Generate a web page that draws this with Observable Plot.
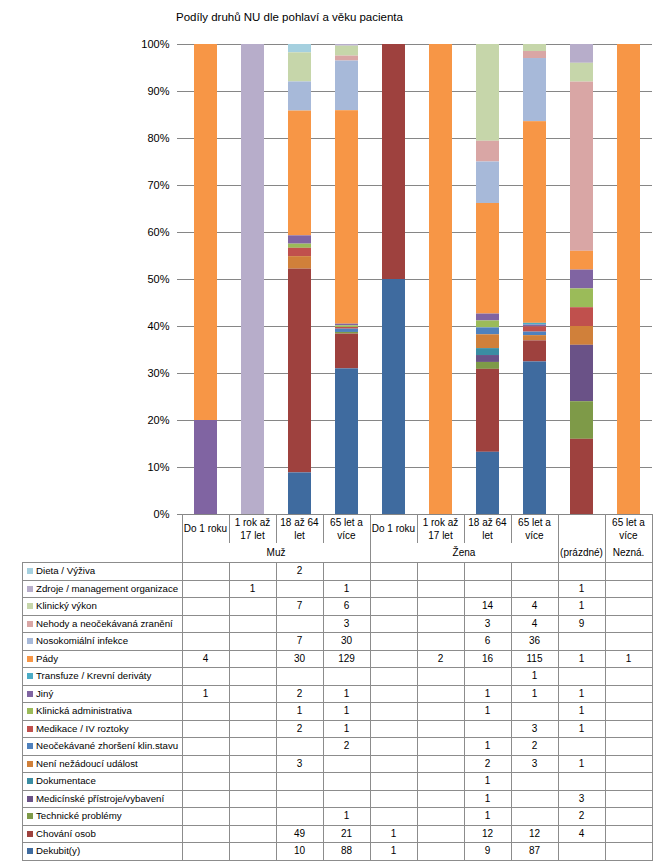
<!DOCTYPE html>
<html><head><meta charset="utf-8">
<script src="https://cdn.jsdelivr.net/npm/d3@7"></script>
<script src="https://cdn.jsdelivr.net/npm/@observablehq/plot@0.6"></script>
<style>
body{margin:0;background:#fff;font-family:"Liberation Sans",Arial,sans-serif;color:#000;}
#wrap{position:relative;width:667px;height:866px;overflow:hidden;}
#title{position:absolute;left:176px;top:11px;font-size:11.5px;white-space:nowrap;}
#chart{position:absolute;left:0;top:0;}
.ln{position:absolute;background:#8c8c8c;}
.tx{position:absolute;font-size:10px;line-height:13px;text-align:center;white-space:nowrap;}
.lab{position:absolute;font-size:9.7px;white-space:nowrap;line-height:17px;}
.sw{display:inline-block;width:6px;height:6px;margin-right:3px;vertical-align:0px;}
</style></head>
<body><div id="wrap"><div id="title">Podíly druhů NU dle pohlaví a věku pacienta</div><div id="chart"></div></div>
<script>
// columns (x categories)
const colKeys = ["M0","M1","M18","M65","Z0","Z1","Z18","Z65","P","N65"];
const colLabels = ["Do 1 roku","1 rok až\n17 let","18 až 64\nlet","65 let a\nvíce","Do 1 roku","1 rok až\n17 let","18 až 64\nlet","65 let a\nvíce","","65 let a\nvíce"];
const groupLabels = ["Muž","Žena","(prázdné)","Nezná."];
const groupSpans = [4,4,1,1];
const yTicks = [0,0.1,0.2,0.3,0.4,0.5,0.6,0.7,0.8,0.9,1];

// series values per column (table order, top to bottom)
const dieta       = [null,null,2,null,null,null,null,null,null,null];
const zdroje      = [null,1,null,1,null,null,null,null,1,null];
const klinVykon   = [null,null,7,6,null,null,14,4,1,null];
const nehody      = [null,null,null,3,null,null,3,4,9,null];
const noso        = [null,null,7,30,null,null,6,36,null,null];
const pady        = [4,null,30,129,null,2,16,115,1,1];
const transfuze   = [null,null,null,null,null,null,null,1,null,null];
const jiny        = [1,null,2,1,null,null,1,1,1,null];
const klinAdm     = [null,null,1,1,null,null,1,null,1,null];
const medikace    = [null,null,2,1,null,null,null,3,1,null];
const neocek      = [null,null,null,2,null,null,1,2,null,null];
const neniNU      = [null,null,3,null,null,null,2,3,1,null];
const dokumentace = [null,null,null,null,null,null,1,null,null,null];
const pristroje   = [null,null,null,null,null,null,1,null,3,null];
const technicke   = [null,null,null,1,null,null,1,null,2,null];
const chovani     = [null,null,49,21,1,null,12,12,4,null];
const dekubit     = [null,null,10,88,1,null,9,87,null,null];

const seriesNames = ["Dieta / Výživa","Zdroje / management organizace","Klinický výkon","Nehody a neočekávaná zranění","Nosokomiální infekce","Pády","Transfuze / Krevní deriváty","Jiný","Klinická administrativa","Medikace / IV roztoky","Neočekávané zhoršení klin.stavu","Není nežádoucí událost","Dokumentace","Medicínské přístroje/vybavení","Technické problémy","Chování osob","Dekubit(y)"];
const seriesValues = [dieta,zdroje,klinVykon,nehody,noso,pady,transfuze,jiny,klinAdm,medikace,neocek,neniNU,dokumentace,pristroje,technicke,chovani,dekubit];
const seriesColors = ["#a5d0df","#b7adca","#c6d6aa","#d9a6a5","#a7b9d9","#f79646","#4bacc6","#8064a2","#9bbb59","#c0504d","#4f81bd","#d0803a","#3a8da3","#6a5287","#7e9a48","#9e413e","#3f6b9f"];

const data = [];
seriesNames.forEach((s,si)=>seriesValues[si].forEach((v,i)=>{ if(v) data.push({col:colKeys[i], series:s, value:v}); }));
const bottomFirst = seriesNames.slice().reverse();

const chart = Plot.plot({
  width:667, height:520, marginTop:44, marginBottom:6, marginLeft:182, marginRight:15,
  style:{fontFamily:'"Liberation Sans", Arial, sans-serif', fontSize:"11px", color:"#000", background:"transparent", overflow:"visible"},
  x:{domain:colKeys, paddingInner:0.52, paddingOuter:0.26, axis:null},
  y:{domain:[0,1], axis:null},
  color:{domain:seriesNames, range:seriesColors},
  marks:[
    Plot.gridY(yTicks, {stroke:"#868686", strokeOpacity:1}),
    Plot.barY(data, Plot.stackY({offset:"normalize", order:bottomFirst}, {x:"col", y:"value", fill:"series"})),
    Plot.axisY(yTicks, {tickFormat:d=>Math.round(d*100)+"%", tickSize:5, tickPadding:8, stroke:"#868686", fill:"#000", label:null, fontSize:11}),
    Plot.ruleX([0], {frameAnchor:"left", stroke:"#868686"})
  ]
});
const wrap = document.getElementById("wrap");
document.getElementById("chart").appendChild(chart);

// data table drawn from the x scale
const xs = chart.scale("x");
const step = xs.step, bw = xs.bandwidth;
const colLeft = colKeys.map(k => Math.round(xs.apply(k) + bw/2 - step/2));
const right = Math.round(colLeft[colLeft.length-1] + step);
const edges = colLeft.concat([right]);
const tableLeft = 22, headTop = 514, subBottom = 543, rowTop = 562, rowH = 17.5;
const nRows = seriesNames.length;
const bottom = Math.round(rowTop + rowH*nRows);
function line(x,y,w,h){const d=document.createElement("div");d.className="ln";Object.assign(d.style,{left:x+"px",top:y+"px",width:w+"px",height:h+"px"});wrap.appendChild(d);}
function text(x,y,w,h,html,cls){const d=document.createElement("div");d.className=cls||"tx";Object.assign(d.style,{left:x+"px",top:y+"px",width:w+"px",height:h+"px"});d.innerHTML=html;wrap.appendChild(d);return d;}
// group boundaries
const groupEdges = new Set([0]); let acc=0; groupSpans.forEach(s=>{acc+=s; groupEdges.add(acc);});
edges.forEach((x,i)=>{
  if (groupEdges.has(i)) line(x,headTop,1,bottom-headTop+1);
  else { line(x,headTop,1,subBottom-headTop); line(x,rowTop,1,bottom-rowTop+1); }
});
line(tableLeft,rowTop,1,bottom-rowTop+1);
for(let r=0;r<=nRows;r++) line(tableLeft, Math.round(rowTop+r*rowH), right-tableLeft+1, 1);
// header labels
colLabels.forEach((l,i)=>{
  if(!l) return;
  const d=text(edges[i],headTop,edges[i+1]-edges[i],subBottom-headTop,l.replace("\n","<br>"));
  d.style.display="flex";d.style.alignItems="center";d.style.justifyContent="center";
});
acc=0;
groupLabels.forEach((g,gi)=>{
  const x0=edges[acc], x1=edges[acc+groupSpans[gi]]; acc+=groupSpans[gi];
  const d=text(x0,subBottom,x1-x0,rowTop-subBottom,g);
  d.style.display="flex";d.style.alignItems="center";d.style.justifyContent="center";
});
// rows
seriesNames.forEach((s,si)=>{
  const y=Math.round(rowTop+si*rowH);
  text(tableLeft+5,y,edges[0]-tableLeft-5,rowH,'<span class="sw" style="background:'+seriesColors[si]+'"></span>'+s,"lab");
  seriesValues[si].forEach((v,i)=>{
    if(v==null) return;
    const d=text(edges[i],y,edges[i+1]-edges[i],rowH,String(v));
    d.style.lineHeight=rowH+"px";
  });
});
</script></body></html>
